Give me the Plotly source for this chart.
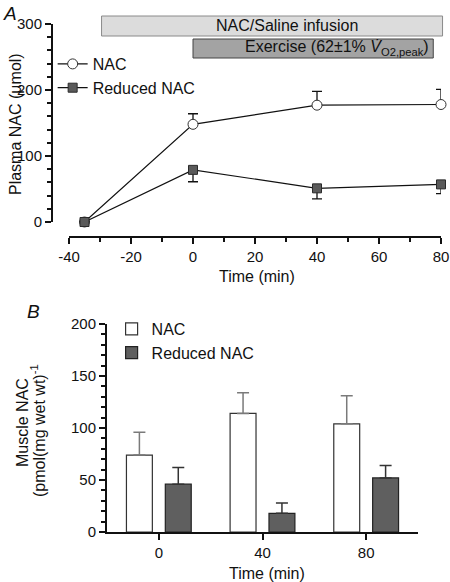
import plotly.graph_objects as go

W, H = 450, 582

# ---------------- Data: panel A (plasma NAC) ----------------
time_a = [-35, 0, 40, 80]
nac_plasma = [0, 148, 177, 178]
nac_plasma_err = [0, 16, 21, 23]
red_plasma = [0, 79, 51, 57]
red_plasma_err = [0, 18, 16, 14]

xticks_a = [-40, -20, 0, 20, 40, 60, 80]
xticklabels_a = ["-40", "-20", "0", "20", "40", "60", "80"]
yticks_a = [0, 100, 200, 300]

infusion_span = [-29.5, 80.5]
exercise_span = [0, 77.5]

# ---------------- Data: panel B (muscle NAC) ----------------
time_b = [0, 40, 80]
nac_muscle = [74, 114, 104]
nac_muscle_err = [22, 20, 27]
red_muscle = [46, 18, 52]
red_muscle_err = [16, 10, 12]
yticks_b = [0, 50, 100, 150, 200]

FONT = "Liberation Sans, Arial, Helvetica, sans-serif"

# geometry (paper fractions)
xa_dom = [69 / W, 441 / W]
xa_range = [-40, 80]
ya_dom = [1 - 222 / H, 1 - 24 / H]
xb_dom = [107 / W, 418 / W]
yb_dom = [1 - 532 / H, 1 - 324 / H]


def xa_to_paper(v):
    return xa_dom[0] + (v - xa_range[0]) / (xa_range[1] - xa_range[0]) * (xa_dom[1] - xa_dom[0])


fig = go.Figure()

# Panel A traces
fig.add_trace(go.Scatter(
    x=time_a, y=nac_plasma, name="NAC", mode="lines+markers",
    line=dict(color="#111111", width=1.2),
    marker=dict(symbol="circle", size=10, color="white", line=dict(color="#333333", width=1)),
    error_y=dict(type="data", array=nac_plasma_err, arrayminus=[0] * 4, symmetric=False,
                 color="#111111", thickness=1.3, width=5),
    cliponaxis=False, xaxis="x", yaxis="y", legend="legend",
))
fig.add_trace(go.Scatter(
    x=time_a, y=red_plasma, name="Reduced NAC", mode="lines+markers",
    line=dict(color="#111111", width=1.2),
    marker=dict(symbol="square", size=9, color="#5a5a5a", line=dict(color="#2a2a2a", width=1)),
    error_y=dict(type="data", array=[0] * 4, arrayminus=red_plasma_err, symmetric=False,
                 color="#111111", thickness=1.3, width=5),
    cliponaxis=False, xaxis="x", yaxis="y", legend="legend",
))

# Panel B traces
fig.add_trace(go.Bar(
    x=time_b, y=nac_muscle, name="NAC", width=10, offset=-12.5,
    marker=dict(color="white", line=dict(color="#333333", width=1.2)),
    error_y=dict(type="data", array=nac_muscle_err, arrayminus=[0] * 3, symmetric=False,
                 color="#7a7a7a", thickness=1.5, width=6),
    xaxis="x2", yaxis="y2", legend="legend2",
))
fig.add_trace(go.Bar(
    x=time_b, y=red_muscle, name="Reduced NAC", width=10, offset=2.5,
    marker=dict(color="#5f5f5f", line=dict(color="#222222", width=1.2)),
    error_y=dict(type="data", array=red_muscle_err, arrayminus=[0] * 3, symmetric=False,
                 color="#333333", thickness=1.5, width=6),
    xaxis="x2", yaxis="y2", legend="legend2",
))

axis_common = dict(showgrid=False, zeroline=False, showline=True, linecolor="#111111",
                   linewidth=2, ticks="outside", tickcolor="#111111", tickwidth=1.5,
                   tickfont=dict(family=FONT, size=15, color="#111111"))

fig.update_layout(
    width=W, height=H,
    margin=dict(l=0, r=0, t=0, b=0, autoexpand=False),
    paper_bgcolor="white", plot_bgcolor="white",
    font=dict(family=FONT, size=16, color="#111111"),
    barmode="overlay",
    xaxis=dict(domain=xa_dom, range=xa_range, anchor="free", position=1 - 237 / H,
               tickvals=xticks_a, ticktext=xticklabels_a, ticklen=6,
               minor=dict(dtick=10, tick0=0, ticklen=4, tickcolor="#111111", tickwidth=1.5, ticks="outside"),
               **axis_common),
    yaxis=dict(domain=ya_dom, range=[0, 300], anchor="free", position=52 / W,
               tickvals=yticks_a, ticklen=6,
               minor=dict(dtick=20, tick0=0, ticklen=4, tickcolor="#111111", tickwidth=1.5, ticks="outside"),
               **axis_common),
    xaxis2=dict(domain=xb_dom, range=[-20, 100], anchor="y2", tickvals=time_b, ticklen=6,
                **axis_common),
    yaxis2=dict(domain=yb_dom, range=[0, 200], anchor="x2", tickvals=yticks_b, ticklen=6,
                minor=dict(dtick=10, tick0=0, ticklen=4, tickcolor="#111111", tickwidth=1.5, ticks="outside"),
                **axis_common),
    legend=dict(x=0.117, y=1 - 47 / H, xanchor="left", yanchor="top", bgcolor="rgba(0,0,0,0)",
                font=dict(family=FONT, size=16), itemwidth=30, tracegroupgap=0),
    legend2=dict(x=0.248, y=1 - 312 / H, xanchor="left", yanchor="top", bgcolor="rgba(0,0,0,0)",
                 font=dict(family=FONT, size=16), itemwidth=30, tracegroupgap=0),
    showlegend=True,
)

# Protocol boxes (panel A)
fig.add_shape(type="rect", xref="paper", yref="paper",
              x0=xa_to_paper(infusion_span[0]), x1=xa_to_paper(infusion_span[1]),
              y0=1 - 36 / H, y1=1 - 16 / H,
              fillcolor="#dcdcdc", line=dict(color="#8a8a8a", width=1), layer="below")
fig.add_shape(type="rect", xref="paper", yref="paper",
              x0=xa_to_paper(exercise_span[0]), x1=xa_to_paper(exercise_span[1]),
              y0=1 - 58 / H, y1=1 - 39 / H,
              fillcolor="#a3a3a3", line=dict(color="#444444", width=1), layer="below")

ann = [
    dict(text="NAC/Saline infusion", x=xa_to_paper(30.3), y=1 - 26 / H, xanchor="center", yanchor="middle"),
    dict(text="Exercise (62±1% <i>V̇</i><sub>O2,peak</sub>)", x=xa_to_paper(46.5), y=1 - 48 / H,
         xanchor="center", yanchor="middle"),
    dict(text="<i>A</i>", x=10 / W, y=1 - 1 / H, xanchor="center", yanchor="top", font=dict(size=19)),
    dict(text="<i>B</i>", x=33 / W, y=1 - 311 / H, xanchor="center", yanchor="middle", font=dict(size=19)),
    dict(text="Plasma NAC (µmol)", x=15 / W, y=1 - 124 / H, textangle=-90, xanchor="center", yanchor="middle"),
    dict(text="Time (min)", x=257 / W, y=1 - 276 / H, xanchor="center", yanchor="middle"),
    dict(text="Muscle NAC", x=22 / W, y=1 - 423 / H, textangle=-90, xanchor="center", yanchor="middle"),
    dict(text="(pmol(mg wet wt)<sup>-1</sup>", x=38 / W, y=1 - 431 / H, textangle=-90,
         xanchor="center", yanchor="middle"),
    dict(text="Time (min)", x=267 / W, y=1 - 573 / H, xanchor="center", yanchor="middle"),
]
for a in ann:
    a.setdefault("font", dict(size=16))
    a["font"].setdefault("family", FONT)
    a["font"].setdefault("color", "#111111")
    fig.add_annotation(xref="paper", yref="paper", showarrow=False, **a)

fig.write_html("out.html", config={"displayModeBar": False},
               post_script="document.body.style.margin='0';document.body.style.overflow='hidden';")
